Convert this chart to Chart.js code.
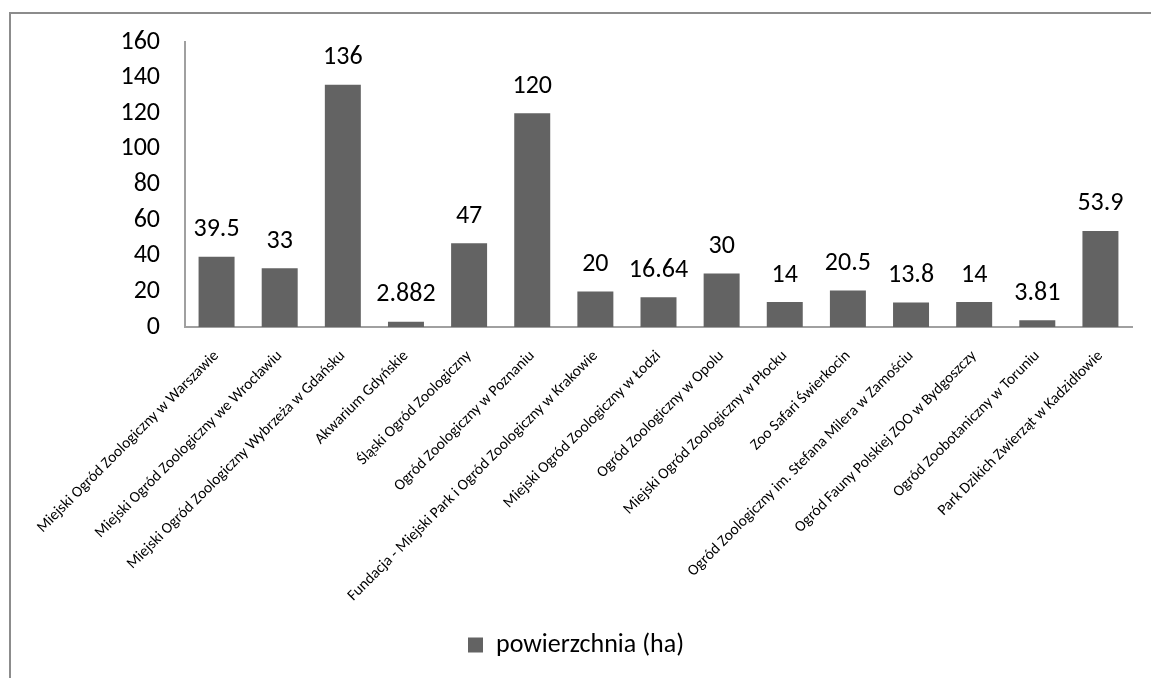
<!DOCTYPE html>
<html>
<head>
<meta charset="utf-8">
<script src="https://cdn.jsdelivr.net/npm/chart.js@4"></script>
<style>
  html, body { margin: 0; padding: 0; background: #fff; }
  #frame { position: absolute; left: 9px; top: 12px; width: 1200px; height: 700px;
           border-left: 2px solid #8c8c8c; border-top: 2px solid #8c8c8c; }
  #wrap { position: absolute; left: 0; top: 0; width: 1151px; height: 678px; }
</style>
</head>
<body>
<div id="frame"></div>
<div id="wrap"><canvas id="zoo-chart"></canvas></div>
<script>
const zooNames = [
    'Miejski Ogród Zoologiczny w Warszawie',
    'Miejski Ogród Zoologiczny we Wrocławiu',
    'Miejski Ogród Zoologiczny Wybrzeża w Gdańsku',
    'Akwarium Gdyńskie',
    'Śląski Ogród Zoologiczny',
    'Ogród Zoologiczny w Poznaniu',
    'Fundacja - Miejski Park i Ogród Zoologiczny w Krakowie',
    'Miejski Ogród Zoologiczny w Łodzi',
    'Ogród Zoologiczny w Opolu',
    'Miejski Ogród Zoologiczny w Płocku',
    'Zoo Safari Świerkocin',
    'Ogród Zoologiczny im. Stefana Milera w Zamościu',
    'Ogród Fauny Polskiej ZOO w Bydgoszczy',
    'Ogród Zoobotaniczny w Toruniu',
    'Park Dzikich Zwierząt w Kadzidłowie'
];
const area = [39.5, 33, 136, 2.882, 47, 120, 20, 16.64, 30, 14, 20.5, 13.8, 14, 3.81, 53.9];
const yTicks = [0, 20, 40, 60, 80, 100, 120, 140, 160];

const fontName = 'Carlito, Lato, "Open Sans", sans-serif';

// values written above each bar
const barValues = {
    id: 'barValues',
    afterDatasetsDraw(chart) {
        const ctx = chart.ctx;
        const meta = chart.getDatasetMeta(0);
        ctx.save();
        ctx.font = '26px ' + fontName;
        ctx.fillStyle = '#000';
        ctx.textAlign = 'center';
        ctx.textBaseline = 'middle';
        meta.data.forEach((bar, i) => {
            ctx.fillText(String(area[i]), bar.x, bar.y - 27);
        });
        ctx.restore();
    }
};

const zooChart = new Chart(document.getElementById('zoo-chart'), {
    type: 'bar',
    data: {
        labels: zooNames,
        datasets: [{
            label: 'powierzchnia (ha)',
            data: area,
            backgroundColor: '#636363',
            borderWidth: 0,
            categoryPercentage: 1,
            barPercentage: 0.57
        }]
    },
    options: {
        responsive: true,
        maintainAspectRatio: false,
        animation: false,
        layout: {
            padding: { left: 20, right: 19, top: 42, bottom: 10 }
        },
        plugins: {
            tooltip: { enabled: false },
            legend: {
                position: 'bottom',
                labels: {
                    color: '#000',
                    font: { family: fontName, size: 26 },
                    boxWidth: 15,
                    boxHeight: 15,
                    padding: 8
                }
            }
        },
        scales: {
            x: {
                afterFit: axis => { axis.height = 297; },
                grid: { display: false },
                border: { display: true, color: '#a0a0a0', width: 2 },
                ticks: {
                    color: '#000',
                    padding: 12,
                    font: { family: fontName, size: 15.5 },
                    minRotation: 45,
                    maxRotation: 45,
                    autoSkip: false
                }
            },
            y: {
                min: 0,
                max: 160,
                afterBuildTicks: axis => { axis.ticks = yTicks.map(v => ({ value: v })); },
                afterFit: axis => { axis.width = 165; },
                grid: { display: false },
                border: { display: true, color: '#a0a0a0', width: 2 },
                ticks: {
                    color: '#000',
                    padding: 17,
                    font: { family: fontName, size: 26 }
                }
            }
        }
    },
    plugins: [barValues]
});
</script>
</body>
</html>
